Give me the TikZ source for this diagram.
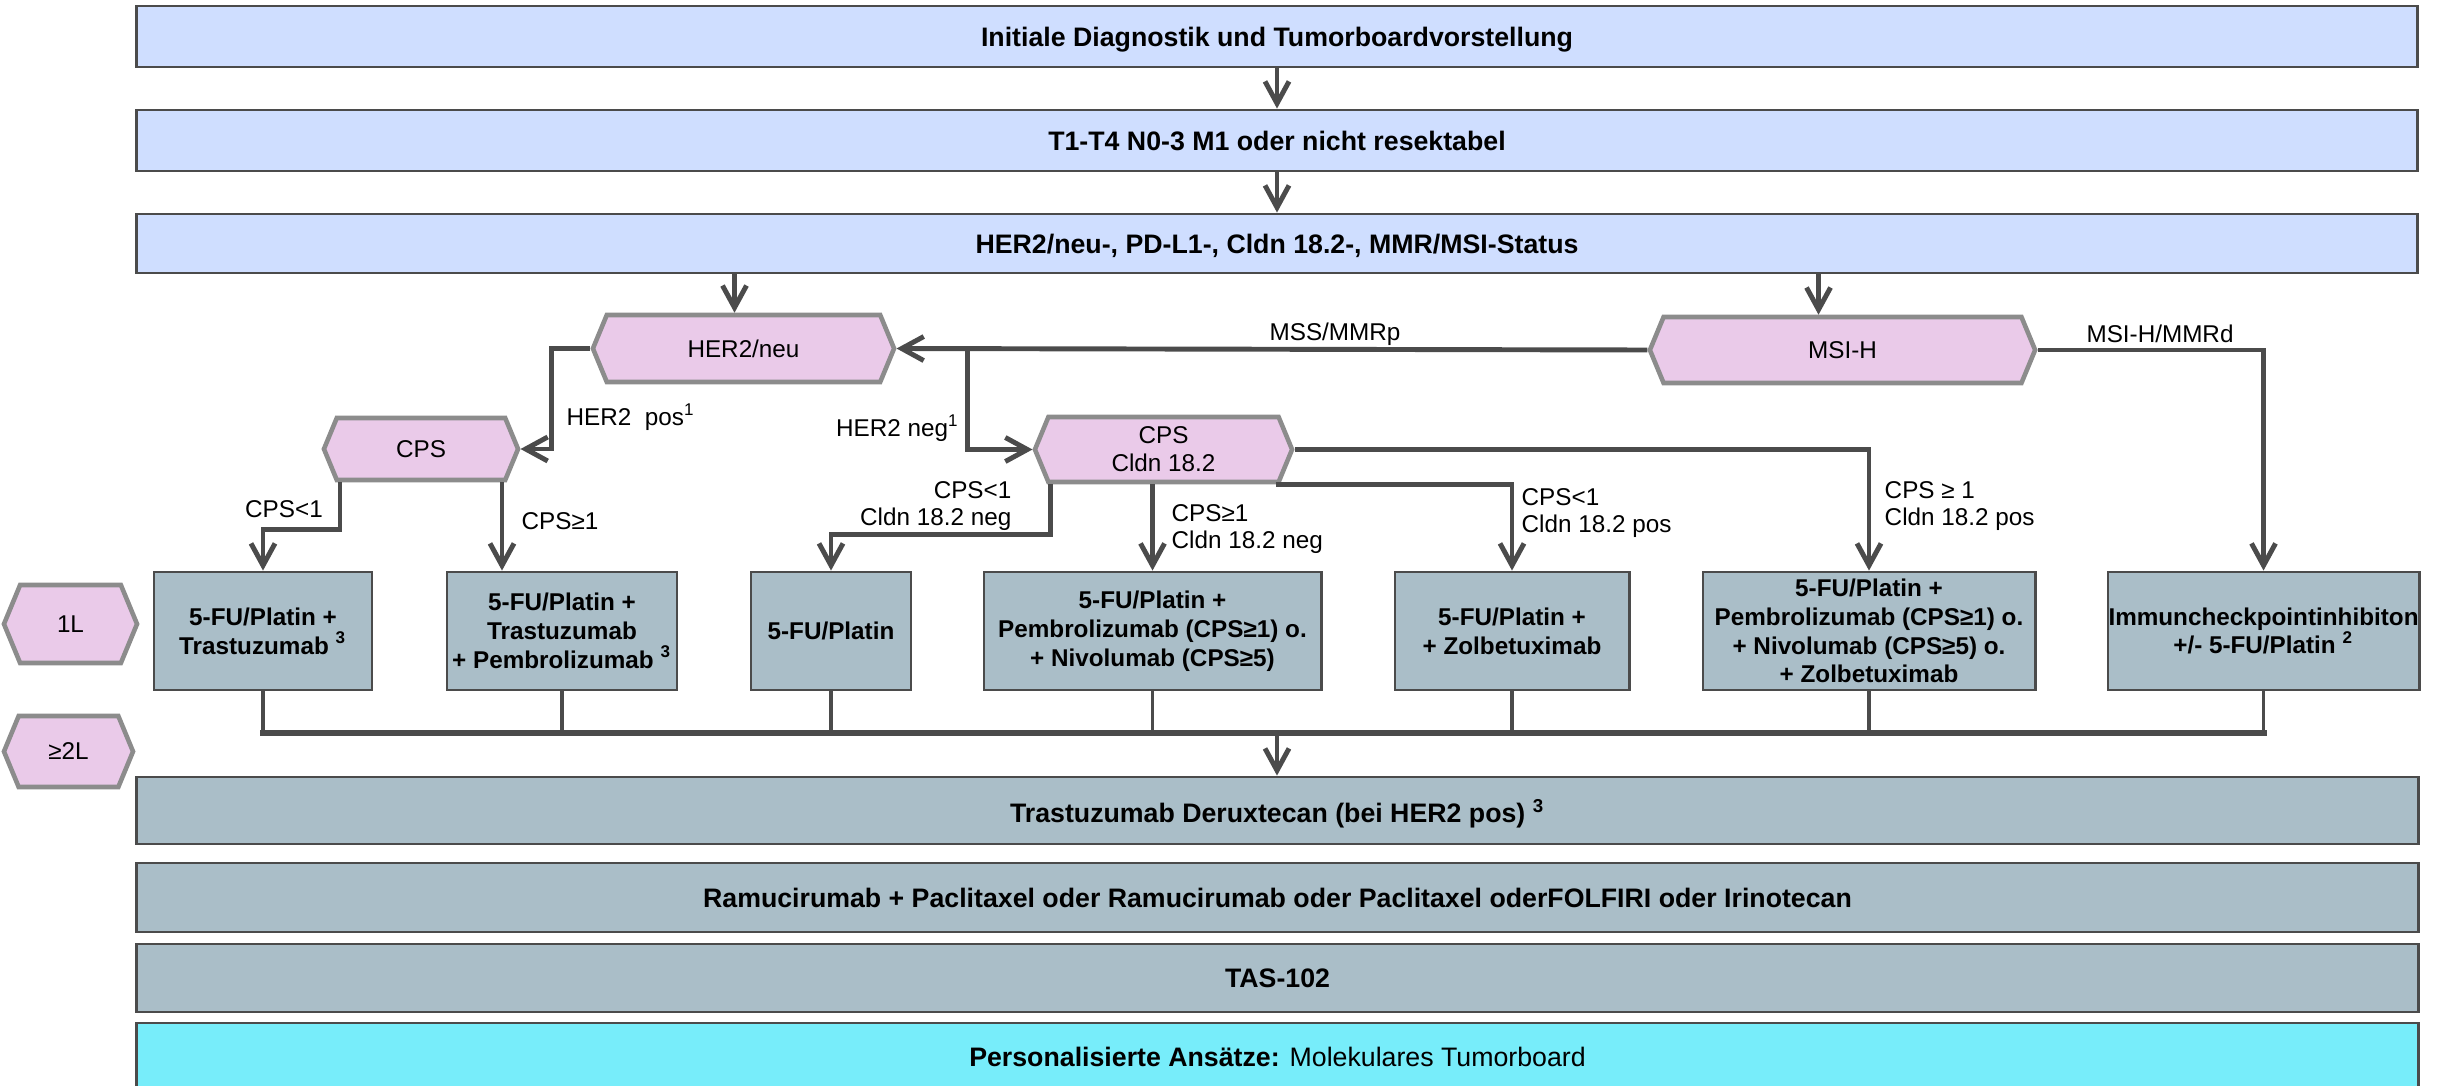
\documentclass[tikz,border=0pt]{standalone}
\usepackage{fontspec}
\setmainfont{Liberation Sans}
\usepackage{tikz}
\usetikzlibrary{
    arrows.meta,
    positioning,
    calc,
    shapes.symbols
}
\definecolor{StageBlue}{RGB}{207,222,255}
\definecolor{TherapyGray}{RGB}{170,190,200}
\definecolor{BoardCyan}{RGB}{119,237,250}
\definecolor{HexPink}{RGB}{234,202,233}
\definecolor{HexGray}{RGB}{140,140,140}
\definecolor{LineGray}{RGB}{75,75,75}
\tikzset{
  stage/.style    = {draw=LineGray, fill=StageBlue, line width=0.8pt, minimum width=22.8cm,
                     minimum height=0.61cm, inner sep=0pt, text depth=0pt,
                     font=\fontsize{7.6}{9}\selectfont\bfseries},
  therapy/.style  = {draw=LineGray, fill=TherapyGray, line width=0.8pt, minimum height=1.18cm,
                     inner sep=0pt, align=center, font=\fontsize{6.9}{8.2}\selectfont\bfseries},
  line2/.style    = {therapy, minimum width=22.81cm, text depth=0pt,
                     font=\fontsize{7.6}{9}\selectfont\bfseries},
  decision/.style = {shape=signal, signal to=east and west, signal pointer angle=135,
                     draw=HexGray, fill=HexPink, line width=1.3pt, inner sep=0pt,
                     align=center, font=\fontsize{6.9}{8}\selectfont},
  lbl/.style      = {inner sep=0pt, align=left, font=\fontsize{6.9}{7.8}\selectfont},
  arr/.style      = {-{Straight Barb[length=2.2mm,width=2.4mm]}, line width=1.4pt, LineGray},
  drop/.style     = {line width=1.1pt, LineGray},
  bar/.style      = {line width=1.9pt, LineGray, line cap=rect}
}

\begin{document}
\begin{tikzpicture}[x=0.01cm, y=-0.01cm]
\useasboundingbox (0,0) rectangle (2440,1085);
\node[stage] (init) at (1277,36.5)
    {Initiale Diagnostik und Tumorboardvorstellung};
\node[stage] (tnm) at (1277,140.5)
    {T1-T4 N0-3 M1 oder nicht resektabel};
\node[stage, minimum height=0.59cm] (status) at (1277,243.5)
    {HER2/neu-, PD-L1-, Cldn 18.2-, MMR/MSI-Status};

\node[decision, minimum width=3.01cm, minimum height=0.67cm] (her) at (743.5,348.5) {HER2/neu};
\node[decision, minimum width=3.85cm, minimum height=0.66cm] (msi) at (1842.5,350) {MSI-H};
\node[decision, minimum width=1.94cm, minimum height=0.62cm] (cps) at (421,449) {CPS};
\node[decision, minimum width=2.57cm, minimum height=0.65cm] (cpsc) at (1163.5,449.5) {CPS\\Cldn 18.2};
\node[decision, minimum width=1.33cm, minimum height=0.78cm] (lineone) at (70.5,624) {1L};
\node[decision, minimum width=1.29cm, minimum height=0.71cm] (linetwo) at (68.5,751.5) {≥2L};

\node[therapy, minimum width=2.18cm] (b1) at (263,631) {5-FU/Platin +\\Trastuzumab \textsuperscript{3}};
\node[therapy, minimum width=2.30cm] (b2) at (562,631) {5-FU/Platin +\\Trastuzumab\\+ Pembrolizumab \textsuperscript{3}};
\node[therapy, minimum width=1.60cm] (b3) at (831,631) {5-FU/Platin};
\node[therapy, minimum width=3.37cm] (b4) at (1152.5,631) {5-FU/Platin +\\Pembrolizumab (CPS≥1) o.\\+ Nivolumab (CPS≥5)};
\node[therapy, minimum width=2.34cm] (b5) at (1512,631) {5-FU/Platin +\\+ Zolbetuximab};
\node[therapy, minimum width=3.32cm] (b6) at (1869,631) {5-FU/Platin +\\Pembrolizumab (CPS≥1) o.\\+ Nivolumab (CPS≥5) o.\\+ Zolbetuximab};
\node[therapy, minimum width=3.11cm] (b7) at (2263.5,631) {Immuncheckpointinhibiton\\+/- 5-FU/Platin \textsuperscript{2}};

\node[line2, minimum height=0.67cm] (d1) at (1277.5,810.5) {Trastuzumab Deruxtecan (bei HER2 pos) \textsuperscript{3}};
\node[line2, minimum height=0.69cm] (d2) at (1277.5,897.5) {Ramucirumab + Paclitaxel oder Ramucirumab oder Paclitaxel oderFOLFIRI oder Irinotecan};
\node[line2, minimum height=0.68cm] (d3) at (1277.5,978) {TAS-102};
\node[line2, minimum height=0.68cm, fill=BoardCyan] (d4) at (1277.5,1057) {Personalisierte Ansätze: \mdseries Molekulares Tumorboard};

\coordinate (herin) at ($(her.north)+(-9,0)$);
\coordinate (msiin) at ($(msi.north)+(-24,0)$);
\coordinate (split) at ($(her.east)+(71,0)$);
\coordinate (cpsl) at ($(cps.south)+(-81,0)$);
\coordinate (cpsr) at ($(cps.south)+(81,0)$);
\coordinate (cldl) at ($(cpsc.south)+(-113,0)$);
\coordinate (cldr) at ($(cpsc.south)+(112,0)$);
\coordinate (bus) at (1277,733);

\draw[arr] (init) -- (tnm);
\draw[arr] (tnm) -- (status);
\draw[arr] (status.south -| herin) -- (herin);
\draw[arr] (status.south -| msiin) -- (msiin);
\draw[arr] (msi.west) -- (her.east);
\draw[arr] (split) |- (cpsc.west);
\draw[arr] (her.west) -- ++(-39,0) |- (cps.east);
\draw[arr] (cpsl) -- ++(0,47) -| (b1.north);
\draw[arr] (cpsr) -- (cpsr |- b2.north);
\draw[arr] (cldl) -- ++(0,50) -| (b3.north);
\draw[arr] (cpsc.south -| b4.north) -- (b4.north);
\draw[arr] (cldr) -| (b5.north);
\draw[arr] (cpsc.east) -| (b6.north);
\draw[arr] (msi.east) -| (b7.north);

\foreach \b in {b1,b2,b3,b4,b5,b6,b7}
    \draw[drop] (\b.south) -- (\b.south |- bus);
\draw[bar] (b1.south |- bus) -- (b7.south |- bus);
\draw[arr] (bus) -- (d1.north -| bus);

\node[lbl, anchor=west] (lpos) at (566,417) {HER2\ \ pos\textsuperscript{1}};
\node[lbl, anchor=east] (lneg) at (960,428) {HER2 neg\textsuperscript{1}};
\node[lbl] (lmss) at (1335,334) {MSS/MMRp};
\node[lbl] (lmsi) at (2160,334) {MSI-H/MMRd};
\node[lbl] (lcps0) at (284,509) {CPS<1};
\node[lbl, anchor=west] (lcps1) at (521,521) {CPS≥1};
\node[lbl, anchor=east, align=right] (lcn0) at (1012,506) {CPS<1\\Cldn 18.2 neg};
\node[lbl, anchor=west] (lcn1) at (1171,529) {CPS≥1\\Cldn 18.2 neg};
\node[lbl, anchor=west] (lcp0) at (1521,513) {CPS<1\\Cldn 18.2 pos};
\node[lbl, anchor=west] (lcp1) at (1884,506) {CPS ≥ 1\\Cldn 18.2 pos};
\end{tikzpicture}
\end{document}
